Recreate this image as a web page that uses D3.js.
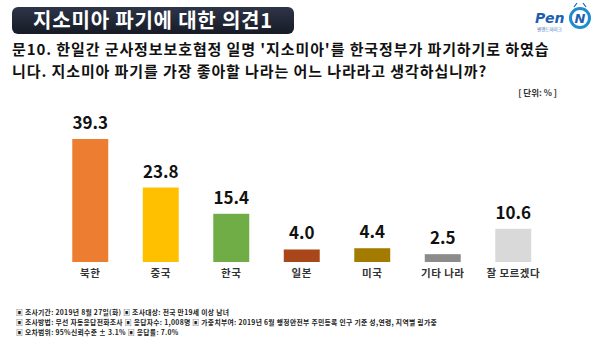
<!DOCTYPE html>
<html><head><meta charset="utf-8">
<script src="https://cdn.jsdelivr.net/npm/d3@7"></script>
<style>body{margin:0;background:#fff;}svg{display:block;}</style>
</head><body>
<svg id="c" width="599" height="337"></svg>
<script>
const categories = ["북한","중국","한국","일본","미국","기타 나라","잘 모르겠다"];
const values = [39.3, 23.8, 15.4, 4.0, 4.4, 2.5, 10.6];
const colors = ["#ED7D31","#FFC000","#70AD47","#A9471A","#A37B00","#8C8C8C","#D9D9D9"];
const titleText = "지소미아 파기에 대한 의견1";
const questionLines = ["문10. 한일간 군사정보보호협정 일명 '지소미아'를 한국정부가 파기하기로 하였습","니다. 지소미아 파기를 가장 좋아할 나라는 어느 나라라고 생각하십니까?"];
const unitText = "[ 단위: % ]";
const footLines = ["▣ 조사기간: 2019년 8월 27일(화)  ▣ 조사대상: 전국 만19세 이상 남녀",
"▣ 조사방법: 무선 자동응답전화조사  ▣ 응답자수: 1,008명 ▣ 가중치부여: 2019년 6월 행정안전부 주민등록 인구 기준 성,연령, 지역별 림가중",
"▣ 오차범위: 95%신뢰수준 ± 3.1%  ▣ 응답률: 7.0%"];

const svg = d3.select("#c");
const font = "'Noto Sans CJK KR','Noto Sans',sans-serif";

// Title box
const defs = svg.append("defs");
const g1 = defs.append("linearGradient").attr("id","tg").attr("x1",0).attr("y1",0).attr("x2",0).attr("y2",1);
g1.append("stop").attr("offset","0%").attr("stop-color","#2e3548");
g1.append("stop").attr("offset","100%").attr("stop-color","#171b26");
svg.append("rect").attr("x",12).attr("y",7).attr("width",282).attr("height",27).attr("rx",6).attr("fill","url(#tg)");
svg.append("text").attr("x",153).attr("y",27.5).attr("text-anchor","middle").attr("fill","#fff")
  .attr("font-family",font).attr("font-weight",700).attr("font-size",20).attr("letter-spacing",0.8).text(titleText);

// Logo
svg.append("text").attr("x",535).attr("y",23).attr("fill","#1f5fb0").attr("font-family","'DejaVu Sans',sans-serif")
  .attr("font-weight",700).attr("font-style","italic").attr("font-size",14).text("Pen");
svg.append("text").attr("x",537).attr("y",31).attr("fill","#3d6fb8").attr("font-family",font).attr("font-size",4.5).text("펜앤드마이크");
svg.append("circle").attr("cx",580).attr("cy",18).attr("r",9.5).attr("fill","#fff").attr("stroke","#1f8bd0").attr("stroke-width",3);
svg.append("text").attr("x",580).attr("y",23).attr("text-anchor","middle").attr("fill","#1f5fb0").attr("font-family","'DejaVu Sans',sans-serif")
  .attr("font-weight",700).attr("font-style","italic").attr("font-size",13).text("N");
svg.append("path").attr("d","M574,7 L577,3 M586,7 L583,3").attr("stroke","#1f5fb0").attr("stroke-width",1.2);

// Question
svg.selectAll("text.q").data(questionLines).join("text").attr("class","q")
  .attr("x",12).attr("y",(d,i)=>55+i*22).attr("fill","#111").attr("font-family",font)
  .attr("font-weight",700).attr("font-size",15).attr("letter-spacing",0.9).text(d=>d);

svg.append("text").attr("x",557).attr("y",96).attr("text-anchor","end").attr("fill","#333")
  .attr("font-family",font).attr("font-weight",700).attr("font-size",8.5).text(unitText);

// Bars
const x = d3.scaleBand().domain(categories).range([55,548.5]).paddingInner(0.49).paddingOuter(0.245);
const y = d3.scaleLinear().domain([0,39.3]).range([262,139]);
const bars = svg.append("g");
bars.selectAll("rect").data(values).join("rect")
  .attr("x",(d,i)=>x(categories[i])).attr("width",x.bandwidth())
  .attr("y",d=>y(d)).attr("height",d=>y(0)-y(d)).attr("fill",(d,i)=>colors[i]);
bars.selectAll("text.v").data(values).join("text").attr("class","v")
  .attr("x",(d,i)=>x(categories[i])+x.bandwidth()/2).attr("y",d=>y(d)-10)
  .attr("text-anchor","middle").attr("fill","#111").attr("font-family",font)
  .attr("font-weight",700).attr("font-size",17).text(d=>d.toFixed(1));
const xAxis = d3.axisBottom(x).tickSize(0).tickPadding(0);
const ax = svg.append("g").attr("transform","translate(0,270)").call(xAxis);
ax.select(".domain").remove();
ax.selectAll("text").attr("font-family",font).attr("font-weight",700).attr("font-size",10.5).attr("fill","#333").attr("dy","0.71em").attr("letter-spacing",0.5);

// Footer
svg.selectAll("text.f").data(footLines).join("text").attr("class","f")
  .attr("x",16).attr("y",(d,i)=>314.5+i*10).attr("fill","#222").attr("font-family",font)
  .attr("font-weight",700).attr("font-size",6.8).attr("letter-spacing",0.3).text(d=>d);
</script>
</body></html>
